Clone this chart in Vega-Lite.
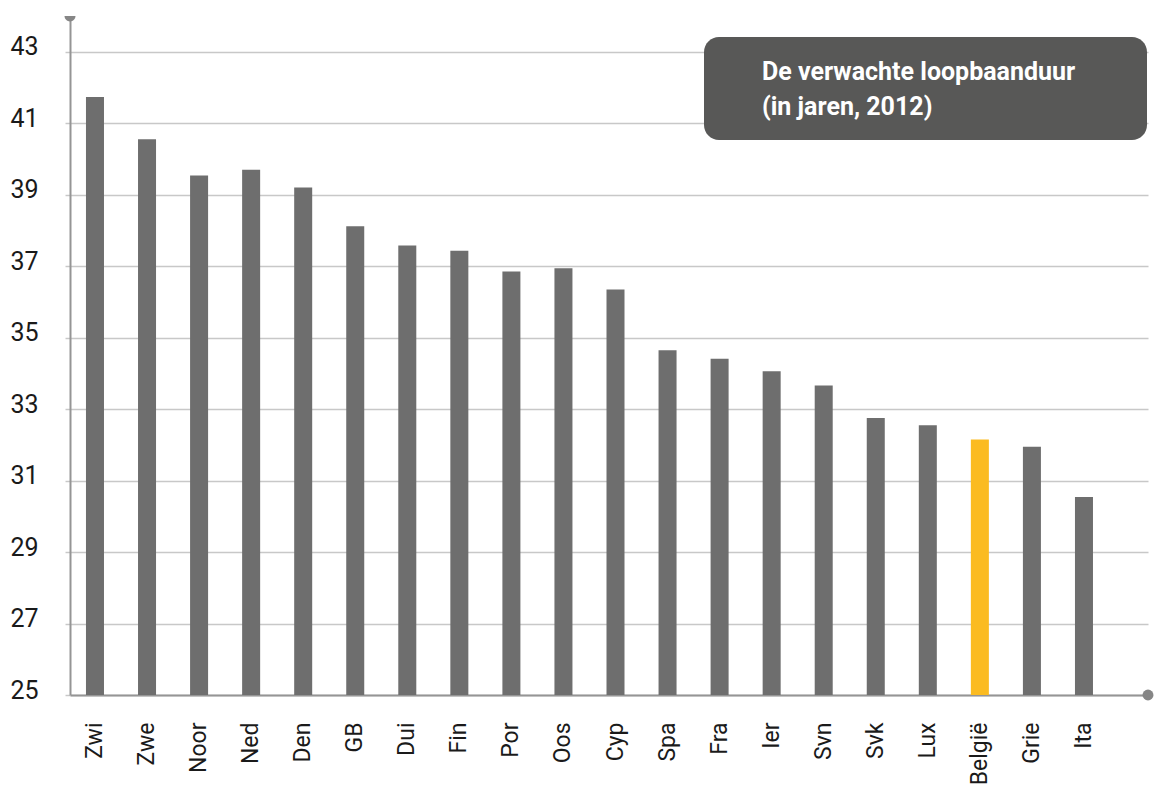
{
  "$schema": "https://vega.github.io/schema/vega-lite/v6.json",
  "width": 1078,
  "height": 679,
  "autosize": {"type": "none"},
  "padding": {"left": 70, "top": 16, "right": 9, "bottom": 92},
  "background": "white",
  "config": {
    "view": {"stroke": null},
    "font": "Roboto, Liberation Sans, sans-serif"
  },
  "datasets": {
    "landen": [
      {"land": "Zwi", "jaren": 41.73},
      {"land": "Zwe", "jaren": 40.55},
      {"land": "Noor", "jaren": 39.54},
      {"land": "Ned", "jaren": 39.70},
      {"land": "Den", "jaren": 39.20},
      {"land": "GB", "jaren": 38.12},
      {"land": "Dui", "jaren": 37.58},
      {"land": "Fin", "jaren": 37.43},
      {"land": "Por", "jaren": 36.85},
      {"land": "Oos", "jaren": 36.94},
      {"land": "Cyp", "jaren": 36.35},
      {"land": "Spa", "jaren": 34.65},
      {"land": "Fra", "jaren": 34.41},
      {"land": "Ier", "jaren": 34.06},
      {"land": "Svn", "jaren": 33.66},
      {"land": "Svk", "jaren": 32.75},
      {"land": "Lux", "jaren": 32.55},
      {"land": "België", "jaren": 32.15},
      {"land": "Grie", "jaren": 31.95},
      {"land": "Ita", "jaren": 30.54}
    ],
    "kader": [{"x": 634, "x2": 1077, "y": 43.41, "y2": 40.53}],
    "titel": [
      {"tekst": "De verwachte loopbaanduur", "x": 692, "y": 42.21},
      {"tekst": "(in jaren, 2012)", "x": 692, "y": 41.23}
    ],
    "punten": [
      {"x": 0, "y": 44, "vorm": "boven"},
      {"x": 1078, "y": 25, "vorm": "rechts"}
    ]
  },
  "layer": [
    {
      "data": {"name": "landen"},
      "mark": {"type": "bar"},
      "encoding": {
        "x": {
          "field": "land",
          "type": "nominal",
          "sort": null,
          "scale": {"paddingInner": 0.654, "paddingOuter": 0.682, "align": 0.225},
          "axis": {
            "title": null,
            "labelAngle": -90,
            "labelFontSize": 23,
            "labelColor": "#1a1a1a",
            "labelPadding": 27,
            "ticks": false,
            "grid": false,
            "domainColor": "#959595",
            "domainWidth": 2
          }
        },
        "y": {
          "field": "jaren",
          "type": "quantitative",
          "title": null,
          "scale": {"domain": [25, 44], "zero": false, "nice": false},
          "axis": {
            "title": null,
            "values": [25, 27, 29, 31, 33, 35, 37, 39, 41, 43],
            "grid": true,
            "gridColor": "#c8c8c8",
            "gridWidth": 1.5,
            "domainColor": "#959595",
            "domainWidth": 2,
            "tickColor": "#c8c8c8",
            "tickSize": 5,
            "tickWidth": 1.5,
            "labelFontSize": 25,
            "labelColor": "#1a1a1a",
            "labelPadding": 27,
            "labelOffset": -5
          }
        },
        "y2": {"datum": 25},
        "color": {
          "condition": {"test": "datum.land === 'België'", "value": "#fbbb21"},
          "value": "#6e6e6e"
        }
      }
    },
    {
      "layer": [
        {
          "data": {"name": "kader"},
          "mark": {"type": "rect", "color": "#585857", "cornerRadius": 15},
          "encoding": {
            "x": {"field": "x", "type": "quantitative", "scale": {"domain": [0, 1078], "nice": false, "zero": false}, "axis": null},
            "x2": {"field": "x2"},
            "y": {"field": "y", "type": "quantitative", "title": null, "scale": {"zero": false}},
            "y2": {"field": "y2"}
          }
        },
        {
          "data": {"name": "titel"},
          "mark": {"type": "text", "align": "left", "baseline": "alphabetic", "fontSize": 25, "fontWeight": "bold", "color": "white"},
          "encoding": {
            "x": {"field": "x", "type": "quantitative", "axis": null},
            "y": {"field": "y", "type": "quantitative", "title": null, "scale": {"zero": false}},
            "text": {"field": "tekst"}
          }
        },
        {
          "data": {"name": "punten"},
          "mark": {"type": "point", "filled": true, "opacity": 1, "size": 120, "color": "#868686"},
          "encoding": {
            "x": {"field": "x", "type": "quantitative", "axis": null},
            "y": {"field": "y", "type": "quantitative", "title": null, "scale": {"zero": false}},
            "shape": {
              "field": "vorm",
              "type": "nominal",
              "scale": {"domain": ["boven", "rechts"], "range": ["M -1 0 A 1 1 0 0 0 1 0 Z", "circle"]},
              "legend": null
            }
          }
        }
      ]
    }
  ],
  "resolve": {"scale": {"x": "independent"}}
}
